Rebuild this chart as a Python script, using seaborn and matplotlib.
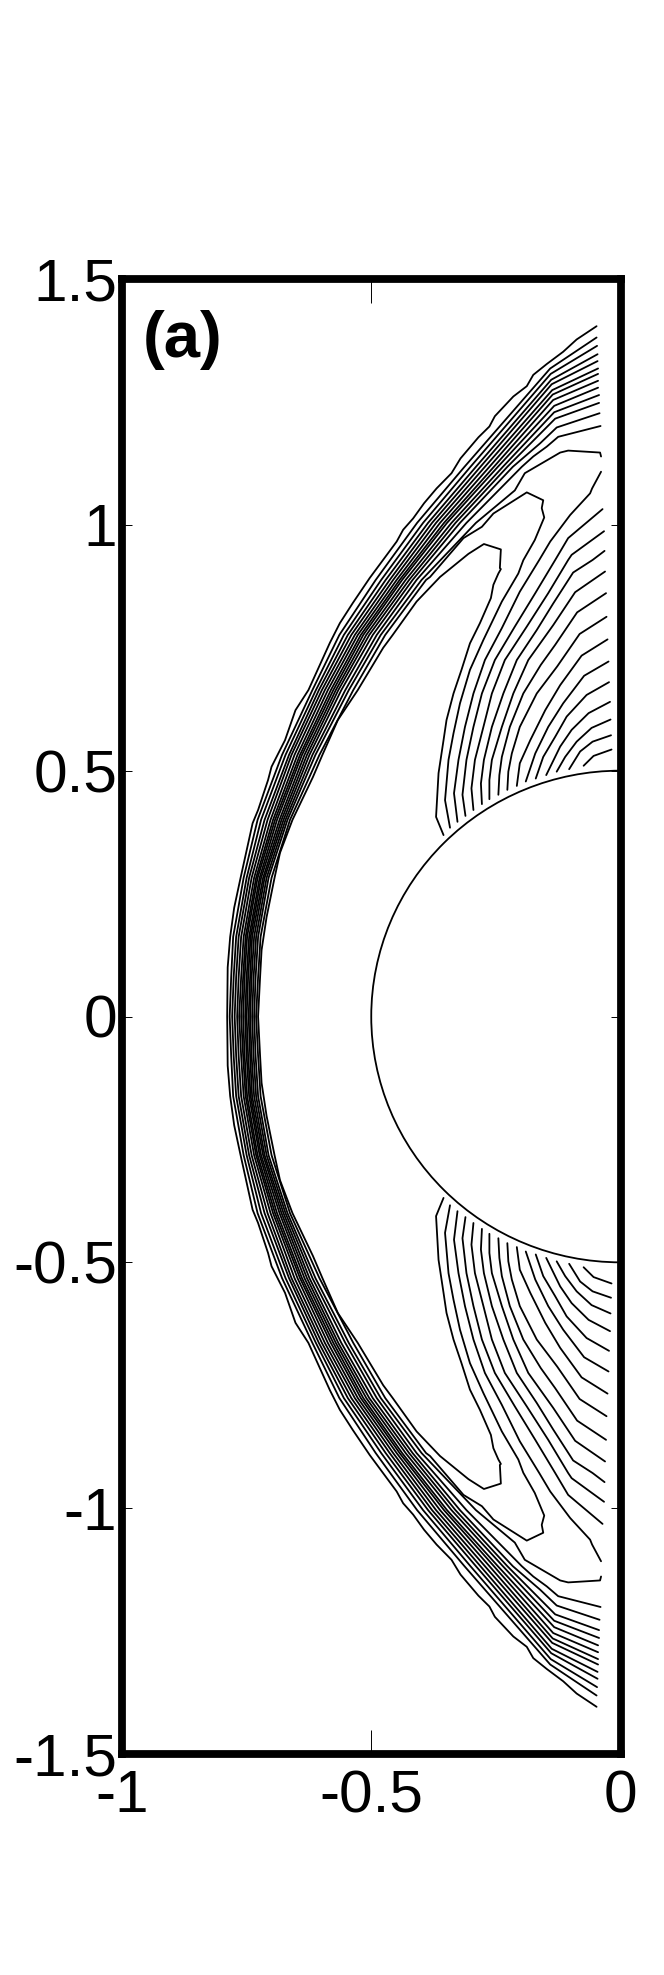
import matplotlib
matplotlib.use("Agg")
import matplotlib.pyplot as plt
from matplotlib.patches import Arc
import pandas as pd
import seaborn as sns

X_TICKS = [-1, -0.5, 0]
X_LABELS = ["-1", "-0.5", "0"]
Y_TICKS = [-1.5, -1, -0.5, 0, 0.5, 1, 1.5]
Y_LABELS = ["-1.5", "-1", "-0.5", "0", "0.5", "1", "1.5"]
PANEL = "(a)"
BODY_RADIUS = 0.5

# heights at which the shock-band contours were read
ST_Y = [1.118, 1.004, .888, .776, .664, .532, .400, .282, .162, .080, 0]

# outermost shock contour
L00_X = [-.048,-.088,-.115,-.148,-.175,-.188,-.215,-.252,-.263,-.285,-.321,-.339,-.369,-.394,-.416,-.436,-.449,-.503,-.537,-.563,-.583,-.626,-.652,-.673,-.700,-.707,-.727,-.738,-.753,-.763,-.775,-.783,-.788,-.789]
L00_Y = [1.404,1.377,1.352,1.327,1.305,1.282,1.261,1.221,1.200,1.178,1.135,1.105,1.074,1.044,1.013,.990,.966,.892,.841,.800,.760,.664,.623,.562,.508,.481,.420,.393,.324,.278,.221,.162,.100,0]

# shock contours: right end, kink, then the read heights
L01_X = [-.048,-.141,-.313,-.408,-.491,-.564,-.618,-.679,-.728,-.756,-.777,-.781,-.784]
L01_Y = [1.381,1.318,*ST_Y]
L02_X = [-.047,-.140,-.301,-.396,-.480,-.555,-.611,-.672,-.721,-.750,-.771,-.776,-.779]
L02_Y = [1.364,1.307,*ST_Y]
L03_X = [-.046,-.139,-.290,-.386,-.471,-.547,-.605,-.665,-.714,-.745,-.766,-.771,-.774]
L03_Y = [1.347,1.295,*ST_Y]
L04_X = [-.046,-.138,-.281,-.378,-.463,-.540,-.599,-.660,-.708,-.740,-.761,-.766,-.769]
L04_Y = [1.333,1.286,*ST_Y]
L05_X = [-.045,-.137,-.272,-.370,-.456,-.533,-.593,-.654,-.702,-.735,-.756,-.761,-.765]
L05_Y = [1.318,1.274,*ST_Y]
L06_X = [-.045,-.136,-.263,-.362,-.449,-.527,-.587,-.648,-.697,-.731,-.752,-.757,-.761]
L06_Y = [1.307,1.265,*ST_Y]
L07_X = [-.045,-.135,-.254,-.354,-.443,-.521,-.581,-.643,-.693,-.728,-.749,-.754,-.757]
L07_Y = [1.293,1.254,*ST_Y]
L08_X = [-.045,-.133,-.246,-.348,-.438,-.516,-.576,-.639,-.689,-.724,-.745,-.750,-.753]
L08_Y = [1.279,1.242,*ST_Y]
L09_X = [-.043,-.133,-.236,-.339,-.431,-.510,-.571,-.634,-.684,-.721,-.742,-.747,-.750]
L09_Y = [1.264,1.229,*ST_Y]
L10_X = [-.043,-.131,-.227,-.331,-.424,-.504,-.566,-.629,-.680,-.717,-.739,-.743,-.746]
L10_Y = [1.248,1.216,*ST_Y]
L11_X = [-.042,-.128,-.161,-.216,-.322,-.417,-.497,-.560,-.624,-.676,-.714,-.735,-.740,-.743]
L11_Y = [1.227,1.198,1.166,*ST_Y]
L12_X = [-.040,-.125,-.148,-.175,-.198,-.309,-.409,-.489,-.552,-.618,-.672,-.710,-.731,-.736,-.739]
L12_Y = [1.201,1.179,1.159,1.139,*ST_Y]
L13_X = [-.039,-.041,-.105,-.121,-.192,-.212,-.290,-.399,-.481,-.545,-.612,-.668,-.706,-.727,-.732,-.735]
L13_Y = [1.139,1.147,1.151,1.147,1.105,1.070,*ST_Y[1:]]

# the two horn contours: body, horn tip, then down the band to the axis
L14_X = [-.342,-.352,-.345,-.335,-.322,-.302,-.275,-.238,-.205,-.195,-.172,-.153,-.158,-.155,-.188,-.255,-.278,-.315,-.382,-.390,-.472,-.536,-.604,-.663,-.700,-.722,-.727,-.731]
L14_Y = [.384,.440,.522,.576,.637,.705,.766,.844,.901,.928,.969,1.015,1.034,1.050,1.066,1.023,.996,.973,.894,.888,.776,.664,.532,.400,.282,.162,.080,0]
L15_X = [-.355,-.370,-.365,-.355,-.349,-.335,-.319,-.302,-.282,-.260,-.255,-.245,-.240,-.242,-.240,-.274,-.305,-.362,-.409,-.457,-.476,-.527,-.567,-.598,-.617,-.658,-.683,-.694,-.710,-.720,-.723,-.727]
L15_Y = [.369,.406,.495,.562,.603,.657,.705,.759,.800,.851,.878,.901,.910,.912,.950,.961,.941,.894,.844,.776,.750,.664,.603,.532,.487,.400,.333,.282,.202,.135,.080,0]

# contours in the expansion behind the body
A_X = [-.039,-.057,-.061,-.101,-.141,-.163,-.202,-.238,-.272,-.295,-.312,-.325,-.334,-.327]
A_Y = [1.108,1.074,1.064,1.020,.966,.9285,.864,.790,.725,.657,.589,.522,.454,.396]
B_X = [-.036,-.105,-.131,-.171,-.212,-.252,-.278,-.295,-.309,-.317,-.311]
B_Y = [1.032,.973,.9285,.861,.793,.725,.657,.589,.522,.451,.408]
C_X = [-.033,-.098,-.105,-.145,-.188,-.232,-.258,-.275,-.292,-.299,-.295]
C_Y = [.987,.939,.9285,.861,.793,.725,.657,.589,.522,.464,.420]
D_X = [-.032,-.056,-.095,-.135,-.168,-.208,-.235,-.258,-.274,-.280,-.278]
D_Y = [.947,.9285,.903,.840,.786,.725,.657,.589,.522,.474,.432]
E_X = [-.031,-.091,-.135,-.185,-.215,-.238,-.258,-.263,-.263]
E_Y = [.905,.863,.796,.725,.657,.589,.522,.481,.442]
F_X = [-.029,-.087,-.131,-.160,-.195,-.222,-.238,-.243,-.245]
F_Y = [.861,.822,.756,.715,.657,.589,.528,.491,.451]
G_X = [-.028,-.082,-.127,-.168,-.202,-.218,-.225,-.227]
G_Y = [.813,.778,.712,.657,.589,.535,.498,.461]
H_X = [-.026,-.078,-.121,-.151,-.181,-.202,-.208]
H_Y = [.767,.734,.674,.623,.562,.515,.469]
I_X = [-.024,-.073,-.115,-.145,-.171,-.190]
I_Y = [.722,.693,.637,.589,.535,.478]
J_X = [-.023,-.068,-.108,-.131,-.155,-.170]
J_Y = [.680,.654,.610,.569,.528,.484]
K_X = [-.021,-.064,-.098,-.121,-.149]
K_Y = [.640,.617,.583,.549,.491]
M1_X = [-.020,-.058,-.088,-.111,-.128]
M1_Y = [.604,.587,.559,.528,.498]
M2_X = [-.019,-.056,-.081,-.103]
M2_Y = [.572,.559,.539,.503]
N_X = [-.018,-.054,-.074]
N_Y = [.543,.530,.510]

THROUGH_AXIS = [(L00_X,L00_Y),(L01_X,L01_Y),(L02_X,L02_Y),(L03_X,L03_Y),(L04_X,L04_Y),
                (L05_X,L05_Y),(L06_X,L06_Y),(L07_X,L07_Y),(L08_X,L08_Y),(L09_X,L09_Y),
                (L10_X,L10_Y),(L11_X,L11_Y),(L12_X,L12_Y),(L13_X,L13_Y),(L14_X,L14_Y),(L15_X,L15_Y)]
INTERIOR = [(A_X,A_Y),(B_X,B_Y),(C_X,C_Y),(D_X,D_Y),(E_X,E_Y),(F_X,F_Y),(G_X,G_Y),
            (H_X,H_Y),(I_X,I_Y),(J_X,J_Y),(K_X,K_Y),(M1_X,M1_Y),(M2_X,M2_Y),(N_X,N_Y)]

# the field is symmetric about y = 0
rows = []
uid = 0
for xs, ys in THROUGH_AXIS:
    for i, (a, b) in enumerate(zip(xs + xs[-2::-1], ys + [-v for v in ys[-2::-1]])):
        rows.append((uid, i, a, b))
    uid += 1
for xs, ys in INTERIOR:
    for sign in (1, -1):
        for i, (a, b) in enumerate(zip(xs, ys)):
            rows.append((uid, i, a, sign * b))
        uid += 1
df = pd.DataFrame(rows, columns=["line", "order", "x", "y"])

sns.set_theme(style="white")
plt.rcParams["font.family"] = ["Liberation Sans", "DejaVu Sans"]

W, H = 664, 1975
fig = plt.figure(figsize=(W / 100, H / 100), dpi=100, facecolor="white")
ax = fig.add_axes([122 / W, 1 - 1754 / H, 498.5 / W, 1475 / H])

LW = 1.3
sns.lineplot(data=df, x="x", y="y", units="line", estimator=None, sort=False,
             color="black", linewidth=LW, legend=False, ax=ax, zorder=2)
ax.add_patch(Arc((0, 0), 2 * BODY_RADIUS, 2 * BODY_RADIUS, theta1=90, theta2=270,
                 color="black", lw=LW, zorder=2))

ax.set_xlim(-1, 0)
ax.set_ylim(-1.5, 1.5)
ax.set_xlabel("")
ax.set_ylabel("")
ax.set_xticks(X_TICKS, X_LABELS)
ax.set_yticks(Y_TICKS, Y_LABELS)
ax.tick_params(axis="x", direction="in", length=17, width=0.7, color="black",
               top=True, bottom=True, labelsize=43.5, labelcolor="black", pad=11)
ax.tick_params(axis="y", direction="in", length=7.2, width=0.7, color="black",
               left=True, right=True, labelsize=43.5, labelcolor="black", pad=3.5)
for s in ax.spines.values():
    s.set_visible(True)
    s.set_linewidth(5.6)
    s.set_color("black")

ax.text(-.959, 1.342, PANEL, fontsize=47, fontweight="bold", color="black",
        ha="left", va="baseline")

fig.savefig("out.png", dpi=100, facecolor="white")
